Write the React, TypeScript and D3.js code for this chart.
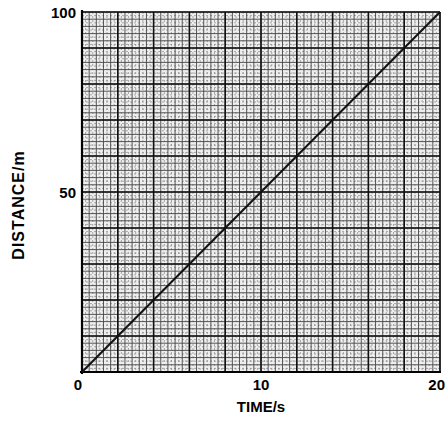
import React from "react";
import * as d3 from "d3";

const timeData = [0, 20];
const distanceData = [0, 100];
const xTickLabels = [0, 10, 20];
const yTickLabels = [50, 100];
const xDomain = [0, 20];
const yDomain = [0, 100];

export default function App() {
  const W = 446, H = 425;
  const left = 82, right = 440, top = 12, bottom = 372;
  const x = d3.scaleLinear().domain(xDomain).range([left, right]);
  const y = d3.scaleLinear().domain(yDomain).range([bottom, top]);
  const xMinor = d3.range(0, 20.0001, 0.4);
  const yMinor = d3.range(0, 100.0001, 2);
  const xFine = d3.range(0.2, 20, 0.4);
  const yFine = d3.range(1, 100, 2);
  const line = d3.line<number>().x((_, i) => x(timeData[i])).y((d) => y(d));
  const font = "'Liberation Sans', Arial, sans-serif";
  return (
    <svg width={W} height={H} style={{ position: "absolute", left: 0, top: 0, background: "#fff" }}>
      <rect x={left} y={top} width={right - left} height={bottom - top} fill="#eeeeee" />
      {xFine.map((v, i) => (
        <line key={"xf" + i} x1={x(v)} x2={x(v)} y1={top} y2={bottom} stroke="#888" strokeWidth={0.7} strokeDasharray="2,2" />
      ))}
      {yFine.map((v, i) => (
        <line key={"yf" + i} y1={y(v)} y2={y(v)} x1={left} x2={right} stroke="#888" strokeWidth={0.7} strokeDasharray="2,2" />
      ))}
      {xMinor.map((v, i) => (
        <line key={"xm" + i} x1={x(v)} x2={x(v)} y1={top} y2={bottom} stroke="#444" strokeWidth={0.9} />
      ))}
      {yMinor.map((v, i) => (
        <line key={"ym" + i} y1={y(v)} y2={y(v)} x1={left} x2={right} stroke="#444" strokeWidth={0.9} />
      ))}
      {x.ticks(10).map((v, i) => (
        <line key={"xM" + i} x1={x(v)} x2={x(v)} y1={top} y2={bottom} stroke="#111" strokeWidth={1.6} />
      ))}
      {y.ticks(10).map((v, i) => (
        <line key={"yM" + i} y1={y(v)} y2={y(v)} x1={left} x2={right} stroke="#111" strokeWidth={1.6} />
      ))}
      <line x1={left} x2={left} y1={top - 2} y2={bottom + 2} stroke="#000" strokeWidth={2.2} />
      <line x1={left - 2} x2={right + 1} y1={bottom} y2={bottom} stroke="#000" strokeWidth={2.2} />
      <path d={line(distanceData) || ""} stroke="#111" strokeWidth={2} fill="none" />
      {xTickLabels.map((v, i) => {
        const last = i === xTickLabels.length - 1;
        return (
          <text key={"xt" + i} x={last ? W - 1 : x(v) + (v === 0 ? -4 : 0)} y={bottom + 18} textAnchor={last ? "end" : "middle"} fontFamily={font} fontWeight="bold" fontSize={15}>
            {v}
          </text>
        );
      })}
      {yTickLabels.map((v, i) => (
        <text key={"yt" + i} x={left - 6} y={y(v) + 6} textAnchor="end" fontFamily={font} fontWeight="bold" fontSize={15}>
          {v}
        </text>
      ))}
      <text x={x(10)} y={412} textAnchor="middle" fontFamily={font} fontWeight="bold" fontSize={15}>
        TIME/s
      </text>
      <text transform="translate(24,205) rotate(-90)" textAnchor="middle" fontFamily={font} fontWeight="bold" fontSize={16} letterSpacing={1}>
        DISTANCE/m
      </text>
    </svg>
  );
}
